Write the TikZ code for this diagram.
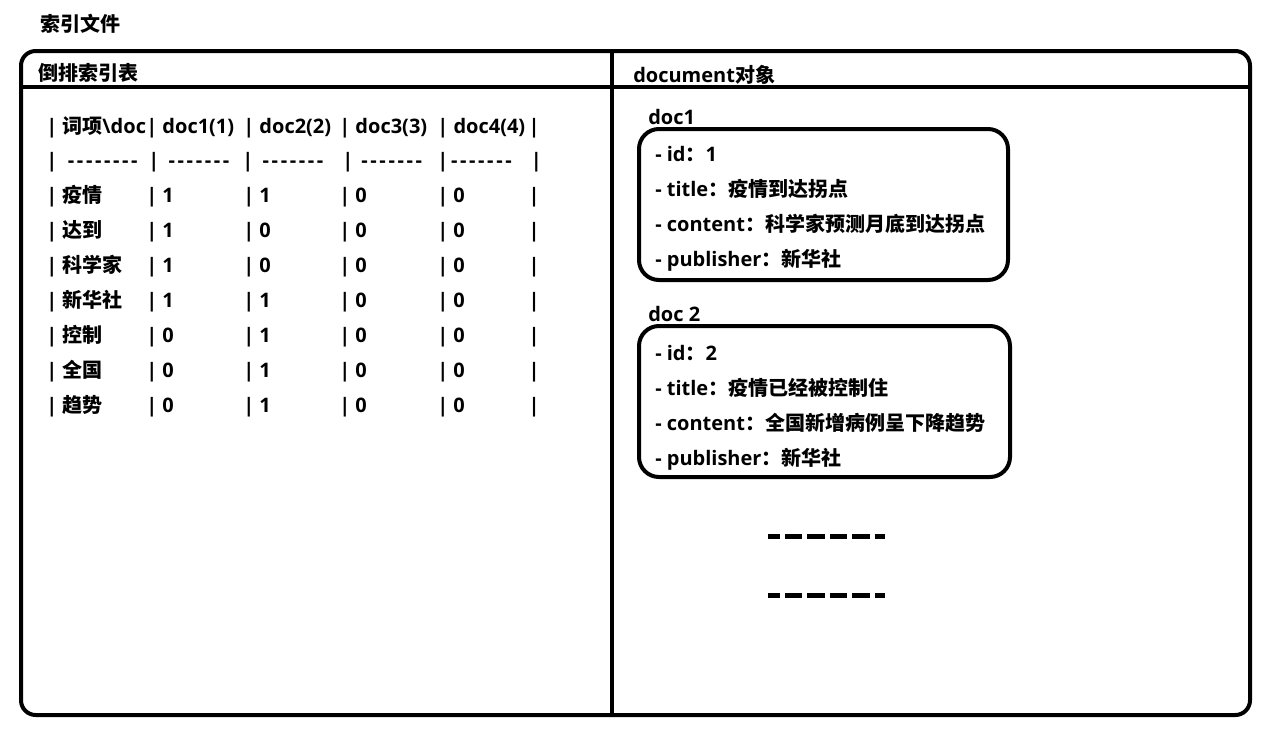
\documentclass[tikz,border=0pt]{standalone}
\usepackage{fontspec}
\setmainfont{Open Sans}[Ligatures=TeXOff]
\newfontfamily\cjk{Noto Sans CJK SC}
\newcommand\C[1]{{\cjk #1}}
\newcommand\trow[5]{\makebox[75pt][l]{| #1}\makebox[72.75pt][l]{| #2}\makebox[72pt][l]{| #3}\makebox[73.5pt][l]{| #4}\makebox[68.5pt][l]{| #5}|}
\newcommand\dg[1]{{\addfontfeature{LetterSpace=13}#1}}
\tikzset{
  txt/.style={anchor=west, inner sep=0pt, text height=12pt, text depth=1pt,
    font=\fontsize{15pt}{18pt}\selectfont\bfseries},
  frame/.style={line width=3pt},
  docbox/.style={draw, line width=3pt, rounded corners=15pt, minimum width=276.75pt,
    minimum height=113.25pt, inner sep=0pt},
  ellip/.style={line width=3.75pt, dash pattern=on 13.1pt off 3.75pt, dash phase=4.1pt},
}
\begin{document}
\begin{tikzpicture}[x=0.75pt,y=-0.75pt]
\useasboundingbox (0,0) rectangle (1283,743);
% frame
\draw[frame, rounded corners=11pt] (21,51) rectangle (1250,715);
\draw[frame] (21,87) -- (1250,87);
\draw[frame] (612,51) -- (612,715);
% titles
\node[txt] (title) at (40,24) {\C{索引文件}};
\node[txt] (inv) at (38,73) {\C{倒排索引表}};
\node[txt] (docobj) at (633,75) {document\C{对象}};
% table
\node[txt] (r0) at (46,126) {\trow{\C{词项}\textbackslash doc}{doc1(1)}{doc2(2)}{doc3(3)}{doc4(4)}};
\node[txt] (r1) at (46,160) {\makebox[76.5pt][l]{|\hspace{8pt}\dg{--------}}\makebox[70.5pt][l]{|\hspace{7pt}\dg{-------}}\makebox[75pt][l]{|\hspace{7pt}\dg{-------}}\makebox[71.25pt][l]{|\hspace{6pt}\dg{-------}}\makebox[70pt][l]{|\hspace{2pt}\dg{-------}}|};
\node[txt] (r2) at (46,195) {\trow{\C{疫情}}{1}{1}{0}{0}};
\node[txt] (r3) at (46,230) {\trow{\C{达到}}{1}{0}{0}{0}};
\node[txt] (r4) at (46,265) {\trow{\C{科学家}}{1}{0}{0}{0}};
\node[txt] (r5) at (46,300) {\trow{\C{新华社}}{1}{1}{0}{0}};
\node[txt] (r6) at (46,335) {\trow{\C{控制}}{0}{1}{0}{0}};
\node[txt] (r7) at (46,370) {\trow{\C{全国}}{0}{1}{0}{0}};
\node[txt] (r8) at (46,405) {\trow{\C{趋势}}{0}{1}{0}{0}};
% doc1
\node[txt] (d1lab) at (648,117) {doc1};
\node[docbox] (d1box) at (823.5,204.5) {};
\node[txt] (d1a) at (655,154) {- id\C{：}1};
\node[txt] (d1b) at (655,189) {- title\C{：疫情到达拐点}};
\node[txt] (d1c) at (655,224) {- content\C{：科学家预测月底到达拐点}};
\node[txt] (d1d) at (655,259) {- publisher\C{：新华社}};
% doc2
\node[txt] (d2lab) at (648,314) {doc 2};
\node[docbox, minimum width=278.25pt] (d2box) at (824.5,401.5) {};
\node[txt] (d2a) at (655,353) {- id\C{：}2};
\node[txt] (d2b) at (655,388) {- title\C{：疫情已经被控制住}};
\node[txt] (d2c) at (655,423) {- content\C{：全国新增病例呈下降趋势}};
\node[txt] (d2d) at (655,458) {- publisher\C{：新华社}};
% ellipsis lines
\coordinate (e1a) at (768,536); \coordinate (e1b) at (885,536);
\coordinate (e2a) at (768,595); \coordinate (e2b) at (885,595);
\draw[ellip] (e1a) -- (e1b);
\draw[ellip] (e2a) -- (e2b);
\end{tikzpicture}
\end{document}
